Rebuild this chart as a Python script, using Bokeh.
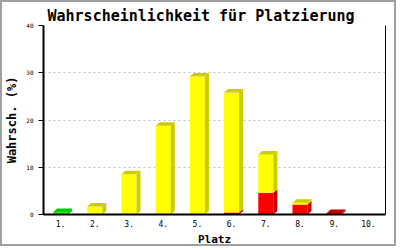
from bokeh.plotting import figure
from bokeh.models import Range1d, FixedTicker, LinearAxis
from bokeh.embed import file_html
from bokeh.resources import INLINE

places = ["1.", "2.", "3.", "4.", "5.", "6.", "7.", "8.", "9.", "10."]
green = [0.5, 0, 0, 0, 0, 0, 0, 0, 0, 0]
red = [0, 0, 0, 0, 0, 0.4, 4.6, 2.1, 0.3, 0]
yellow = [0, 1.7, 8.5, 18.8, 29.2, 25.4, 8.1, 0.4, 0, 0]
y_ticks = [0, 10, 20, 30, 40]

series = [(green, "#00ff00", "#00cc00"), (red, "#ff0000", "#c80000"), (yellow, "#ffff00", "#cccc00")]

FONT = "DejaVu Sans Mono"
W, H = 396, 246
p = figure(width=W, height=H, output_backend="svg", toolbar_location=None,
           x_range=Range1d(0.5, 10.5), y_range=Range1d(0, 40),
           min_border_left=41, min_border_right=13, min_border_top=23, min_border_bottom=34,
           x_axis_location=None, y_axis_location=None)
p.styles = {"border": "2px solid #a0a0a0"}
p.outline_line_color = None
p.background_fill_color = "white"
p.border_fill_color = "white"

p.title.text = "Wahrscheinlichkeit für Platzierung"
p.title.text_font = FONT
p.title.text_font_style = "bold"
p.title.text_font_size = "15px"
p.title.text_color = "black"
p.title.align = "left"
p.title.offset = 4
p.title.standoff = 2

half = 0.22
dx = 0.117
dy = 0.75

fx_l, fx_r, fb, ft, fc = [], [], [], [], []
pxs, pys, pc = [], [], []
n = len(places)
base = [0.0] * n
tops = [None] * n
for vals, col, shade in series:
    for i in range(n):
        v = vals[i]
        if v <= 0:
            continue
        xc = i + 1
        y0 = base[i]
        y1 = y0 + v
        fx_l.append(xc - half); fx_r.append(xc + half); fb.append(y0); ft.append(y1); fc.append(col)
        xr = xc + half
        pxs.append([xr, xr + dx, xr + dx, xr]); pys.append([y0, y0 + dy, y1 + dy, y1]); pc.append(shade)
        base[i] = y1
        tops[i] = (xc, y1, shade)

for t in tops:
    if t:
        xc, y1, shade = t
        pxs.append([xc - half, xc - half + dx, xc + half + dx, xc + half])
        pys.append([y1, y1 + dy, y1 + dy, y1])
        pc.append(shade)

p.xgrid.visible = False
yax = LinearAxis(ticker=FixedTicker(ticks=y_ticks))
yax.axis_label = "Wahrsch. (%)"
yax.axis_label_text_font = FONT
yax.axis_label_text_font_style = "bold"
yax.axis_label_text_font_size = "12px"
yax.axis_label_text_color = "black"
yax.axis_label_standoff = 4
yax.major_label_text_font = FONT
yax.major_label_text_font_size = "6px"
yax.major_label_text_color = "black"
yax.major_label_standoff = 5
yax.major_tick_out = 5
yax.major_tick_in = 0
yax.minor_tick_line_color = None
yax.axis_line_width = 2
yax.axis_line_color = "black"
yax.major_tick_line_color = "black"
p.add_layout(yax, "left")

xax = LinearAxis(ticker=FixedTicker(ticks=list(range(1, n + 1))),
                 major_label_overrides={i + 1: lab for i, lab in enumerate(places)})
xax.axis_label = "Platz"
xax.axis_label_text_font = FONT
xax.axis_label_text_font_style = "bold"
xax.axis_label_text_font_size = "11px"
xax.axis_label_text_color = "black"
xax.axis_label_standoff = 3
xax.major_label_text_font = FONT
xax.major_label_text_font_size = "8px"
xax.major_label_text_color = "black"
xax.major_label_standoff = -1
xax.major_tick_line_color = None
xax.minor_tick_line_color = None
xax.axis_line_width = 2
xax.axis_line_color = "black"
p.add_layout(xax, "below")

rax = LinearAxis(ticker=FixedTicker(ticks=[]))
rax.major_label_text_font_size = "0px"
rax.major_tick_line_color = None
rax.minor_tick_line_color = None
rax.axis_line_width = 1
rax.axis_line_color = "black"
p.add_layout(rax, "right")

p.ygrid.ticker = FixedTicker(ticks=y_ticks[1:])
p.ygrid.grid_line_color = "#c0c0c0"
p.ygrid.grid_line_dash = "2 3"
p.ygrid.grid_line_width = 1

p.quad(left=fx_l, right=fx_r, bottom=fb, top=ft, fill_color=fc, line_color=None)
p.patches(xs=pxs, ys=pys, fill_color=pc, line_color=None)

open("out.html", "w").write(file_html(p, INLINE))
